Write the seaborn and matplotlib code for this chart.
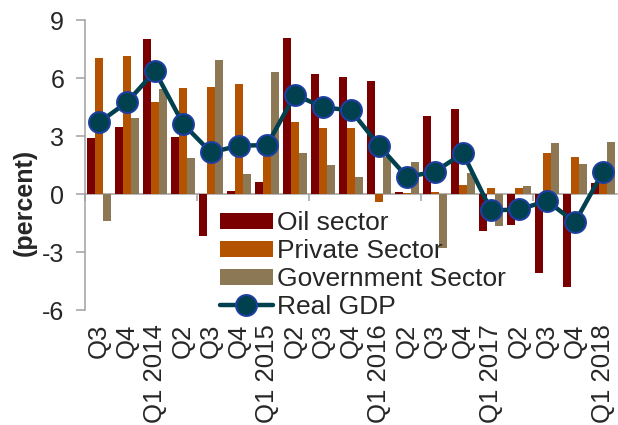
import matplotlib
matplotlib.use("Agg")
import matplotlib.pyplot as plt
import seaborn as sns
import pandas as pd
import numpy as np

quarters = ["Q3", "Q4", "Q1 2014", "Q2", "Q3", "Q4", "Q1 2015", "Q2", "Q3", "Q4",
            "Q1 2016", "Q2", "Q3", "Q4", "Q1 2017", "Q2", "Q3", "Q4", "Q1 2018"]
oil = [2.9, 3.45, 8.0, 2.93, -2.19, 0.15, 0.6, 8.05, 6.19, 6.05,
       5.84, 0.12, 4.02, 4.4, -1.92, -1.58, -4.09, -4.79, 0.59]
private = [7.04, 7.13, 4.75, 5.48, 5.53, 5.7, 2.5, 3.71, 3.4, 3.4,
           -0.42, 0.05, 0.12, 0.47, 0.3, 0.33, 2.1, 1.93, 1.0]
government = [-1.4, 3.92, 5.45, 1.86, 6.95, 1.04, 6.3, 2.12, 1.51, 0.9,
              1.89, 1.68, -2.79, 1.08, -1.63, 0.42, 2.62, 1.55, 2.67]
real_gdp = [3.7, 4.75, 6.35, 3.63, 2.15, 2.5, 2.53, 5.13, 4.49, 4.32,
            2.5, 0.88, 1.16, 2.1, -0.85, -0.8, -0.36, -1.46, 1.14]
series_names = ["Oil sector", "Private Sector", "Government Sector"]
yticks = [-6, -3, 0, 3, 6, 9]

colors = {"Oil sector": "#7A0000", "Private Sector": "#B35300", "Government Sector": "#8C7855"}
line_color = "#00404F"
marker_edge = "#1C3FA0"
axis_gray = "#A0A0A0"

sns.set_theme(style="white")
plt.rcParams["font.family"] = ["Liberation Sans", "DejaVu Sans"]
plt.rcParams["axes.unicode_minus"] = False

idx = list(range(len(quarters)))
rows = []
for name, vals in zip(series_names, [oil, private, government]):
    for i, v in zip(idx, vals):
        rows.append({"idx": i, "series": name, "value": v})
df = pd.DataFrame(rows)

fig = plt.figure(figsize=(6.18, 4.25), dpi=100)
ax = fig.add_axes([85 / 618, 1 - 310 / 425, 532 / 618, 290 / 425])

sns.barplot(data=df, x="idx", y="value", hue="series", hue_order=series_names,
            order=idx, palette=colors, width=0.85, linewidth=0, saturation=1,
            ax=ax)
sns.lineplot(x=idx, y=real_gdp, color=line_color, linewidth=3.2, marker="o",
             markersize=15, markeredgecolor=marker_edge, markeredgewidth=1.5,
             label="Real GDP", ax=ax, zorder=5)

ax.set_xlim(-0.5, len(quarters) - 0.5)
ax.set_ylim(-6, 9)
ax.set_yticks(yticks)
ax.set_yticklabels([str(t) for t in yticks])
ax.set_xticks(idx)
ax.set_xticklabels(quarters, rotation=90, fontsize=18.5)
ax.tick_params(axis="x", length=0, pad=10)
ax.tick_params(axis="y", direction="out", length=6.5, width=1.1, color=axis_gray,
               labelsize=18, pad=8.5, left=True)
ax.set_xlabel("")
ax.set_ylabel("(percent)", fontsize=18, fontweight="bold")
ax.yaxis.set_label_coords(-0.09, 0.372)

for s in ["top", "right", "bottom"]:
    ax.spines[s].set_visible(False)
ax.spines["left"].set_color(axis_gray)
ax.spines["left"].set_linewidth(1.1)

# zero line with category-group tick marks
sec = ax.secondary_xaxis(0.4)
sec.set_xticks([-0.5, 3.5, 7.5, 11.5, 15.5])
sec.tick_params(axis="x", direction="out", length=5, width=1.1, color=axis_gray,
                labelbottom=False, labeltop=False)
sec.spines["bottom"].set_color(axis_gray)
sec.spines["bottom"].set_linewidth(1.1)

handles, labels = ax.get_legend_handles_labels()
ax.legend(handles, labels, loc="upper left",
          bbox_to_anchor=(220 / 618, 1 - 211 / 425), bbox_transform=fig.transFigure,
          frameon=False, fontsize=19, borderpad=0, handlelength=2.0,
          handleheight=0.55, handletextpad=0.15, labelspacing=0.15,
          borderaxespad=0)

fig.savefig("out.png", dpi=100)
